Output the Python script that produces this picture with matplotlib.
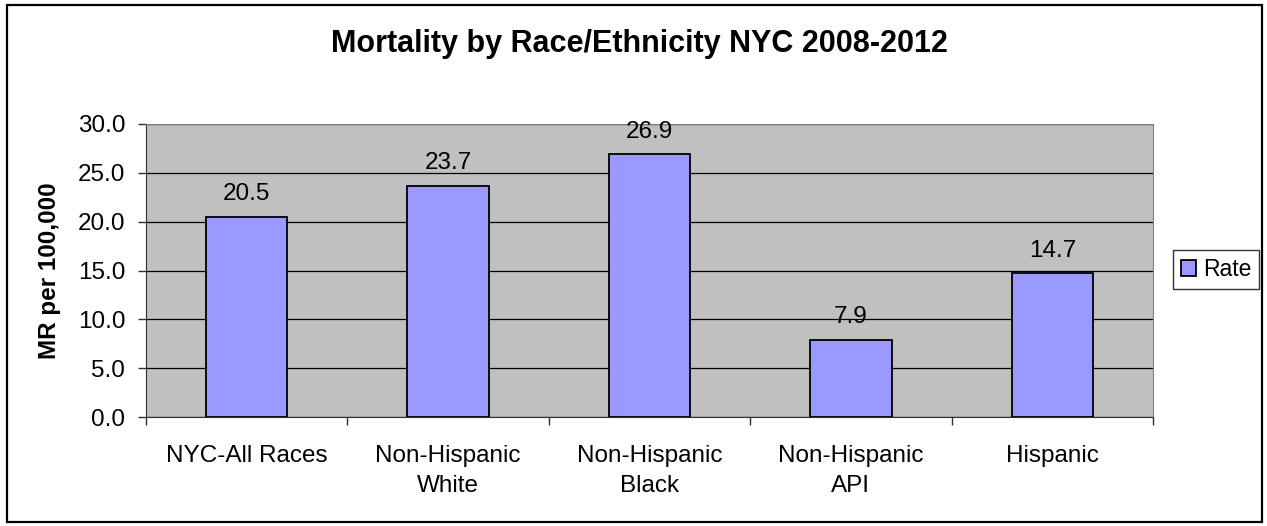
import matplotlib.pyplot as plt
import numpy as np
from matplotlib.patches import Rectangle

plt.rcParams['font.family'] = ['Liberation Sans', 'DejaVu Sans']

categories = ['NYC-All Races', 'Non-Hispanic\nWhite', 'Non-Hispanic\nBlack',
              'Non-Hispanic\nAPI', 'Hispanic']
rates = [20.5, 23.7, 26.9, 7.9, 14.7]
yticks = [0, 5, 10, 15, 20, 25, 30]

W, H = 1267, 526
fig = plt.figure(figsize=(W / 100, H / 100), dpi=100)
# plot area in pixel terms: left 146, right 1153, top 124, bottom 417
ax = fig.add_axes([146 / W, 1 - 417 / H, (1153 - 146) / W, (417 - 124) / H])

x = np.arange(len(categories))
bars = ax.bar(x, rates, width=0.405, color='#9999FF', edgecolor='black',
              linewidth=1.3, label='Rate', zorder=3)
for xi, v in zip(x, rates):
    ax.annotate(f'{v:.1f}', (xi, v), xytext=(0, 12), textcoords='offset points',
                ha='center', va='baseline', fontsize=17.5)

ax.set_facecolor('#C0C0C0')
ax.set_xlim(-0.5, len(categories) - 0.5)
ax.set_ylim(0, 30)
ax.set_yticks(yticks)
ax.set_yticklabels([f'{t:.1f}' for t in yticks], fontsize=17.5)
ax.yaxis.grid(True, color='black', linewidth=0.9, zorder=0)
ax.set_axisbelow(True)

ax.set_xticks(x)
ax.set_xticklabels(categories, fontsize=17.5, linespacing=1.42)
ax.set_xticks(np.arange(-0.5, len(categories)), minor=True)
ax.tick_params(axis='x', which='major', length=0, pad=20.5)
ax.tick_params(axis='x', which='minor', length=6, direction='out', width=1, color='#303030')
ax.tick_params(axis='y', length=6, width=1, color='#303030', pad=9)

for side in ['top', 'right']:
    ax.spines[side].set_color('#808080')
ax.spines['left'].set_color('#303030')
ax.spines['bottom'].set_color('#303030')

fig.text(50 / W, 1 - 271 / H, 'MR per 100,000', rotation=90, ha='center',
         va='center', fontsize=17.5, fontweight='bold')

fig.text(639 / W, 1 - 52 / H, 'Mortality by Race/Ethnicity NYC 2008-2012',
         ha='center', va='baseline', fontsize=22, fontweight='bold')

leg = fig.legend(handles=[bars], labels=['Rate'], loc='center',
                 bbox_to_anchor=(1216 / W, 1 - 269.5 / H), fontsize=16.5,
                 frameon=True, fancybox=False, edgecolor='black',
                 handlelength=0.65, handleheight=0.65, handletextpad=0.3,
                 borderpad=0.35, borderaxespad=0)
leg.get_frame().set_linewidth(1)

fig.patches.append(Rectangle((7 / W, 4 / H), 1255 / W, 517 / H,
                             transform=fig.transFigure, fill=False,
                             edgecolor='black', linewidth=1.6))

fig.savefig('out.png', dpi=100)
